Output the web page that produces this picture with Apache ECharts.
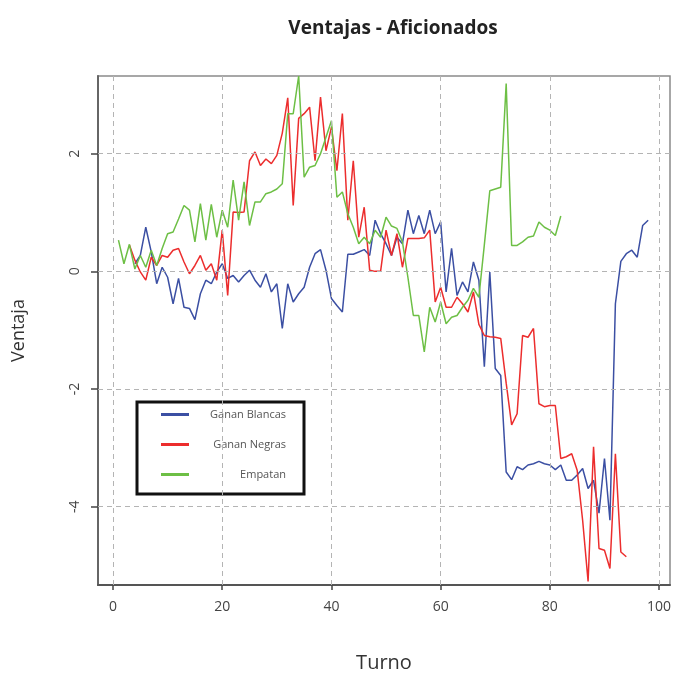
<!DOCTYPE html>
<html>
<head>
<meta charset="utf-8">
<script src="https://cdn.jsdelivr.net/npm/echarts@6/dist/echarts.min.js"></script>
<style>
html,body{margin:0;padding:0;background:#fff;}
#chart{width:673px;height:675px;}
</style>
</head>
<body>
<div id="chart"></div>
<script>
// ---- Data ----
const titleText = 'Ventajas - Aficionados';
const xName = 'Turno';
const yName = 'Ventaja';
const xTicks = [0, 20, 40, 60, 80, 100];
const yTicks = [-4, -2, 0, 2];
const seriesNames = ['Ganan Blancas', 'Ganan Negras', 'Empatan'];

const blancasStart = 4;
const blancasValues = [
  0.13, 0.27, 0.75, 0.33, -0.21, 0.07, -0.10, -0.55, -0.12, -0.61,
  -0.63, -0.82, -0.38, -0.15, -0.21, -0.01, 0.13, -0.12, -0.07, -0.18,
  -0.07, 0.02, -0.15, -0.27, -0.04, -0.35, -0.21, -0.97, -0.21, -0.52,
  -0.38, -0.27, 0.07, 0.30, 0.37, 0.02, -0.46, -0.58, -0.69, 0.29,
  0.29, 0.33, 0.37, 0.27, 0.87, 0.64, 0.47, 0.27, 0.58, 0.47,
  1.04, 0.64, 0.95, 0.64, 1.04, 0.64, 0.84, -0.35, 0.39, -0.41,
  -0.18, -0.35, 0.16, -0.15, -1.62, -0.01, -1.65, -1.77, -3.41, -3.54,
  -3.32, -3.37, -3.29, -3.27, -3.23, -3.27, -3.29, -3.37, -3.29, -3.55,
  -3.55, -3.46, -3.35, -3.69, -3.55, -4.11, -3.18, -4.23, -0.55, 0.17,
  0.30, 0.36, 0.24, 0.78, 0.87
];

const negrasStart = 3;
const negrasValues = [
  0.45, 0.19, -0.01, -0.15, 0.24, 0.10, 0.27, 0.24, 0.36, 0.39,
  0.16, -0.04, 0.10, 0.27, 0.02, 0.13, -0.15, 0.70, -0.41, 1.01,
  1.00, 1.01, 1.88, 2.03, 1.80, 1.91, 1.83, 1.97, 2.35, 2.95,
  1.12, 2.60, 2.68, 2.79, 1.88, 2.96, 2.05, 2.45, 1.71, 2.68,
  0.87, 1.88, 0.58, 1.09, 0.02, 0.00, 0.00, 0.70, 0.27, 0.64,
  0.07, 0.56, 0.56, 0.56, 0.57, 0.70, -0.52, -0.27, -0.61, -0.61,
  -0.44, -0.55, -0.69, -0.35, -0.90, -1.09, -1.11, -1.12, -1.14, -1.90,
  -2.61, -2.42, -1.09, -1.12, -0.97, -2.25, -2.30, -2.28, -2.28, -3.18,
  -3.15, -3.10, -3.38, -4.23, -5.27, -2.98, -4.71, -4.74, -5.05, -3.10,
  -4.77, -4.85
];

const empatanStart = 1;
const empatanValues = [
  0.53, 0.13, 0.46, 0.04, 0.27, 0.07, 0.36, 0.10, 0.39, 0.64,
  0.67, 0.89, 1.12, 1.04, 0.50, 1.15, 0.53, 1.14, 0.58, 1.04,
  0.75, 1.55, 0.87, 1.52, 0.78, 1.18, 1.18, 1.32, 1.35, 1.40,
  1.49, 2.68, 2.68, 3.32, 1.60, 1.77, 1.80, 2.00, 2.28, 2.56,
  1.26, 1.35, 0.98, 0.75, 0.47, 0.58, 0.47, 0.70, 0.58, 0.92,
  0.77, 0.73, 0.50, -0.10, -0.75, -0.75, -1.37, -0.61, -0.86, -0.52,
  -0.89, -0.78, -0.75, -0.61, -0.49, -0.29, -0.44, 0.45, 1.37, 1.40,
  1.43, 3.19, 0.44, 0.44, 0.50, 0.58, 0.60, 0.84, 0.75, 0.70,
  0.61, 0.94
];

// ---- Build ----
function pairs(start, vals) { return vals.map((v, i) => [start + i, v]); }
const colors = ['#3b4fa3', '#ec2d2d', '#6dbf45'];
const gridColor = '#b4b4b4';
const font = '"Open Sans", "Noto Sans", sans-serif';

const chart = echarts.init(document.getElementById('chart'), null, {renderer: 'canvas'});

const lineSeries = [
  {name: seriesNames[0], data: pairs(blancasStart, blancasValues), color: colors[0]},
  {name: seriesNames[1], data: pairs(negrasStart, negrasValues), color: colors[1]},
  {name: seriesNames[2], data: pairs(empatanStart, empatanValues), color: colors[2]}
].map(s => ({
  name: s.name,
  type: 'line',
  data: s.data,
  showSymbol: false,
  symbol: 'none',
  z: 3,
  lineStyle: {color: s.color, width: 1.5},
  itemStyle: {color: s.color},
  emphasis: {disabled: true},
  animation: false
}));

const gridSeries = {
  type: 'line',
  data: [],
  z: 1,
  silent: true,
  markLine: {
    silent: true,
    symbol: 'none',
    animation: false,
    label: {show: false},
    lineStyle: {color: gridColor, type: [5, 4], width: 1},
    data: xTicks.map(v => ({xAxis: v})).concat(yTicks.map(v => ({yAxis: v})))
  }
};

chart.setOption({
  animation: false,
  backgroundColor: '#ffffff',
  title: {
    text: titleText,
    left: 388,
    top: 14,
    textAlign: 'center',
    textStyle: {fontFamily: font, fontSize: 19, fontWeight: 'bold', color: '#222'}
  },
  legend: {
    orient: 'vertical',
    left: 137,
    top: 402,
    itemWidth: 28,
    itemHeight: 3,
    itemGap: 19,
    icon: 'rect',
    padding: [7, 18, 14, 24],
    borderColor: '#111',
    borderWidth: 3,
    backgroundColor: '#fff',
    data: seriesNames,
    formatter: '{a|{name}}',
    textStyle: {
      fontFamily: font, fontSize: 11, color: '#555',
      rich: {a: {width: 92, align: 'right', fontFamily: font, fontSize: 11, color: '#555'}}
    },
    selectedMode: false
  },
  grid: {
    left: 98, right: 3, top: 76, bottom: 90,
    show: true,
    borderColor: '#8a8a8a',
    borderWidth: 1.5,
    containLabel: false,
    outerBoundsMode: 'none'
  },
  xAxis: {
    type: 'value',
    min: -2.75,
    max: 102,
    name: xName,
    nameLocation: 'middle',
    nameGap: 68,
    nameTextStyle: {fontFamily: font, fontSize: 20, color: '#333'},
    axisLine: {show: true, onZero: false, lineStyle: {color: '#555', width: 2}},
    axisTick: {show: true, inside: false, length: 5, customValues: xTicks, lineStyle: {color: '#444', width: 1.5}},
    axisLabel: {show: true, customValues: xTicks, margin: 15, fontFamily: font, fontSize: 14, color: '#444'},
    splitLine: {show: false}
  },
  yAxis: {
    type: 'value',
    min: -5.33,
    max: 3.32,
    name: yName,
    nameLocation: 'middle',
    nameGap: 70,
    nameRotate: 90,
    nameTextStyle: {fontFamily: font, fontSize: 18, color: '#333'},
    axisLine: {show: true, onZero: false, lineStyle: {color: '#666', width: 2}},
    axisTick: {show: true, inside: false, length: 7, customValues: yTicks, lineStyle: {color: '#444', width: 1.5}},
    axisLabel: {show: true, customValues: yTicks, rotate: 90, margin: 16, fontFamily: font, fontSize: 14, color: '#444'},
    splitLine: {show: false}
  },
  series: [gridSeries].concat(lineSeries)
});
</script>
</body>
</html>
